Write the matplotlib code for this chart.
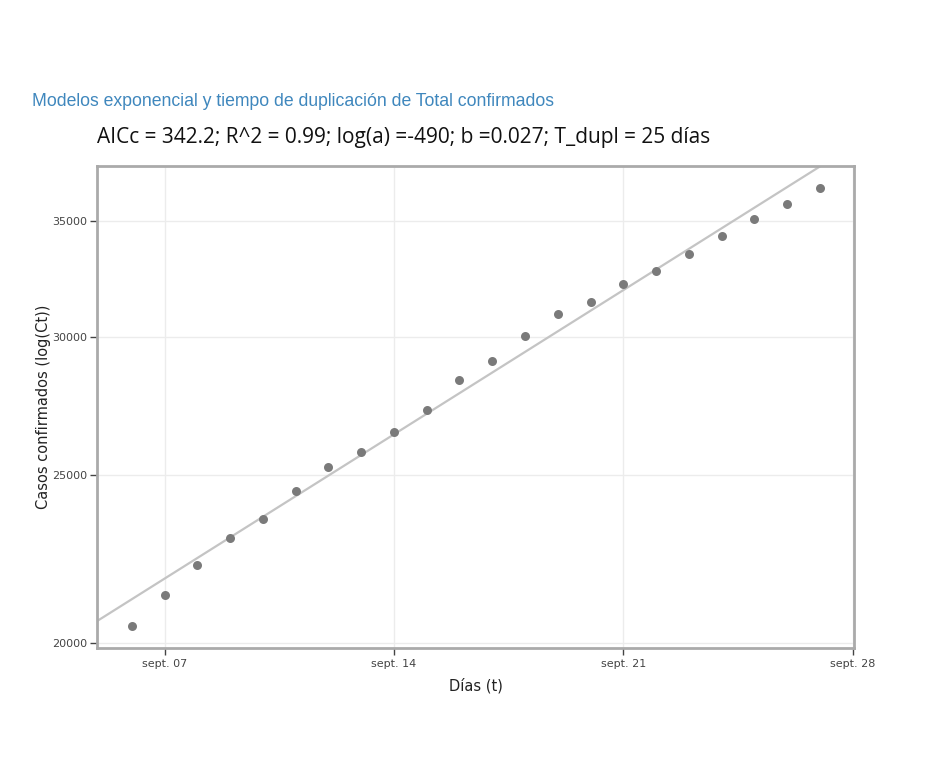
import datetime as dt
import matplotlib
matplotlib.use("Agg")
import matplotlib.pyplot as plt
import matplotlib.dates as mdates
from matplotlib.ticker import FixedLocator, NullLocator, FuncFormatter

# daily confirmed cases
dates = [dt.datetime(2020, 9, d) for d in range(6, 28)]
casos = [20450, 21320, 22170, 22970, 23580, 24460, 25260, 25770, 26440, 27250, 28360,
         29060, 30060, 30950, 31450, 32190, 32760, 33490, 34300, 35110, 35810, 36570]

# exponential fit (straight line on log axis), two end points
fit_dates = [dt.datetime(2020, 9, 4), dt.datetime(2020, 9, 29)]
fit_vals = [20060, 39750]

y_ticks = [20000, 25000, 30000, 35000]
x_ticks = [dt.datetime(2020, 9, d) for d in (7, 14, 21, 28)]

titulo = "Modelos exponencial y tiempo de duplicación de Total confirmados"
subtitulo = "AICc = 342.2; R^2 = 0.99; log(a) =-490; b =0.027; T_dupl = 25 días"

fig = plt.figure(figsize=(9.29, 7.81), dpi=100)
ax = fig.add_axes([0.1047, 0.1707, 0.8146, 0.6168])

ax.plot(fit_dates, fit_vals, color="#c4c4c4", lw=1.6, zorder=2)
ax.scatter(dates, casos, s=42, color="#7a7a7a", zorder=3, linewidths=0)

ax.set_yscale("log")
ax.set_ylim(19867, 37660)
ax.set_xlim(dt.datetime(2020, 9, 4, 22, 40), dt.datetime(2020, 9, 28, 1, 0))

ax.yaxis.set_major_locator(FixedLocator(y_ticks))
ax.yaxis.set_minor_locator(NullLocator())
ax.yaxis.set_major_formatter(FuncFormatter(lambda v, p: "%d" % round(v)))
ax.set_xticks(x_ticks)
ax.xaxis.set_major_formatter(mdates.DateFormatter("sept. %d"))

ax.grid(True, color="#ececec", lw=1)
ax.set_axisbelow(True)
for s in ax.spines.values():
    s.set_color("#aaaaaa")
    s.set_linewidth(2)
ax.tick_params(axis="both", length=5, width=1, color="#444444", labelsize=8,
               labelcolor="#444444")
ax.tick_params(axis="y", pad=2)

ax.set_ylabel("Casos confirmados (log(Ct))", fontsize=10.5, color="#222222",
              family="DejaVu Sans", labelpad=1)
ax.set_xlabel("Días (t)", fontsize=10.5, color="#222222", family="DejaVu Sans", labelpad=6)

fig.text(32 / 929, 1 - 102 / 781, titulo, fontsize=12.7, color="#3f87bd",
         family="Liberation Sans", va="center", ha="left")
fig.text(97 / 929, 1 - 138 / 781, subtitulo, fontsize=15, color="#111111",
         family="Open Sans", va="center", ha="left")

fig.savefig("out.png", dpi=100)
